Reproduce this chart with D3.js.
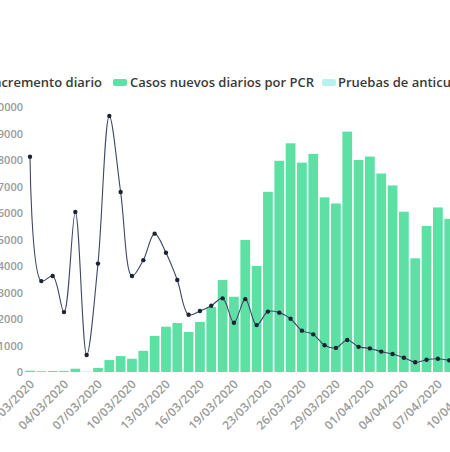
<!DOCTYPE html>
<html>
<head>
<meta charset="utf-8">
<script src="https://cdn.jsdelivr.net/npm/d3@7"></script>
<style>
    body { margin: 0; background: #fff; overflow: hidden; }
    text { font-family: "Open Sans", sans-serif; }
</style>
</head>
<body>
<div id="chart"></div>
<script>
// data (one date is missing in the source: 20/03)
let dates = [
    "01/03/2020", "02/03/2020", "03/03/2020", "04/03/2020", "05/03/2020", "06/03/2020",
    "07/03/2020", "08/03/2020", "09/03/2020", "10/03/2020", "11/03/2020", "12/03/2020",
    "13/03/2020", "14/03/2020", "15/03/2020", "16/03/2020", "17/03/2020", "18/03/2020",
    "19/03/2020", "21/03/2020", "22/03/2020", "23/03/2020", "24/03/2020", "25/03/2020",
    "26/03/2020", "27/03/2020", "28/03/2020", "29/03/2020", "30/03/2020", "31/03/2020",
    "01/04/2020", "02/04/2020", "03/04/2020", "04/04/2020", "05/04/2020", "06/04/2020",
    "07/04/2020", "08/04/2020", "09/04/2020", "10/04/2020"
];

// Casos nuevos diarios por PCR
let casosPCR = [
    50, 30, 40, 40, 125, 10, 150, 450, 600, 500, 800, 1360,
    1710, 1850, 1510, 1890, 2450, 3470, 2840, 4980, 4000, 6800, 7970, 8630,
    7900, 8230, 6590, 6360, 9070, 8000, 8130, 7490, 7040, 6050, 4290, 5510,
    6210, 5780
];

// Incremento diario (%), right axis is outside the picture
let incremento = [
    81.2, 34.3, 36.2, 22.6, 60.4, 6.4, 40.9, 96.6, 67.9, 36.2, 42.2, 52.2,
    45.0, 34.7, 21.6, 23.0, 25.0, 27.8, 18.6, 27.5, 17.7, 22.8, 22.4, 20.1,
    15.6, 14.2, 10.1, 9.1, 12.1, 9.5, 8.9, 7.7, 6.8, 5.4, 3.7, 4.6,
    5.0, 4.4
];

let yTicks = [0, 1000, 2000, 3000, 4000, 5000, 6000, 7000, 8000, 9000, 10000];

let legendItems = ["Incremento diario", "Casos nuevos diarios por PCR", "Pruebas de anticuerpos"];

let svgWidth = 450;
let svgHeight = 452;

let barColor = "#5ce0a4";
let testColor = "#b6f3ef";
let lineColor = "#3d4866";
let labelColor = "#9a9a9a";

let svg = d3.select("#chart")
    .append("svg")
    .attr("width", svgWidth)
    .attr("height", svgHeight);

svg.append("rect")
    .attr("width", svgWidth)
    .attr("height", svgHeight)
    .attr("fill", "#fff");

// scales (the plot is cut on the left and right by the crop)
let step = 11.33;
let x0 = 30 - step / 2;
let xScale = d3.scaleBand()
    .domain(dates)
    .range([x0, x0 + step * dates.length])
    .paddingInner(0.14)
    .paddingOuter(0.07);

let yScale = d3.scaleLinear()
    .domain([0, 10000])
    .range([372, 107]);

let y2Scale = d3.scaleLinear()
    .domain([0, 100])
    .range([372, 107]);

// y axis
let leftAxis = d3.axisLeft(yScale)
    .tickValues(yTicks)
    .tickSize(0)
    .tickPadding(3)
    .tickFormat(d3.format("d"));

let yAxis = svg.append("g")
    .attr("transform", "translate(26, 0)")
    .call(leftAxis);
yAxis.select(".domain").remove();
yAxis.selectAll("text")
    .attr("fill", labelColor)
    .attr("font-size", "11px")
    .attr("font-weight", 600)
    .attr("font-family", "Open Sans");

// bars
svg.append("g")
    .selectAll("rect")
    .data(casosPCR)
    .enter()
    .append("rect")
    .attr("x", (d, i) => xScale(dates[i]))
    .attr("y", d => yScale(d))
    .attr("width", xScale.bandwidth())
    .attr("height", d => yScale(0) - yScale(d))
    .attr("fill", barColor);

// x axis, every third date
let bottomAxis = d3.axisBottom(xScale)
    .tickValues(dates.filter((d, i) => i % 3 === 0))
    .tickSize(0);

let xAxis = svg.append("g")
    .attr("transform", "translate(0, 372)")
    .call(bottomAxis);
xAxis.select(".domain").remove();
xAxis.selectAll("text")
    .attr("fill", labelColor)
    .attr("font-size", "12px")
    .attr("font-weight", 600)
    .attr("font-family", "Open Sans")
    .attr("text-anchor", "end")
    .attr("dy", null)
    .attr("y", null)
    .attr("transform", "translate(5, 13) rotate(-45)");

// increment line
let lineData = incremento.map((v, i) => ({ date: dates[i], value: v }));

let line = d3.line()
    .x(d => xScale(d.date) + xScale.bandwidth() / 2)
    .y(d => y2Scale(d.value))
    .curve(d3.curveCatmullRom.alpha(0.5));

svg.append("path")
    .datum(lineData)
    .attr("d", line)
    .attr("fill", "none")
    .attr("stroke", lineColor)
    .attr("stroke-width", 1.1);

svg.append("g")
    .selectAll("circle")
    .data(lineData)
    .enter()
    .append("circle")
    .attr("cx", d => xScale(d.date) + xScale.bandwidth() / 2)
    .attr("cy", d => y2Scale(d.value))
    .attr("r", 2.2)
    .attr("fill", "#1c2433");

// legend
let legend = svg.append("g")
    .attr("font-size", "13px")
    .attr("font-weight", 600)
    .attr("fill", "#3a3a3a");

legend.append("text")
    .attr("x", 102)
    .attr("y", 87)
    .attr("text-anchor", "end")
    .text(legendItems[0]);

legend.append("rect")
    .attr("x", 113)
    .attr("y", 79)
    .attr("width", 14)
    .attr("height", 7)
    .attr("rx", 2)
    .attr("fill", barColor);

legend.append("text")
    .attr("x", 130)
    .attr("y", 87)
    .text(legendItems[1]);

legend.append("rect")
    .attr("x", 322)
    .attr("y", 79)
    .attr("width", 14)
    .attr("height", 7)
    .attr("rx", 2)
    .attr("fill", testColor);

legend.append("text")
    .attr("x", 338)
    .attr("y", 87)
    .text(legendItems[2]);
</script>
</body>
</html>
